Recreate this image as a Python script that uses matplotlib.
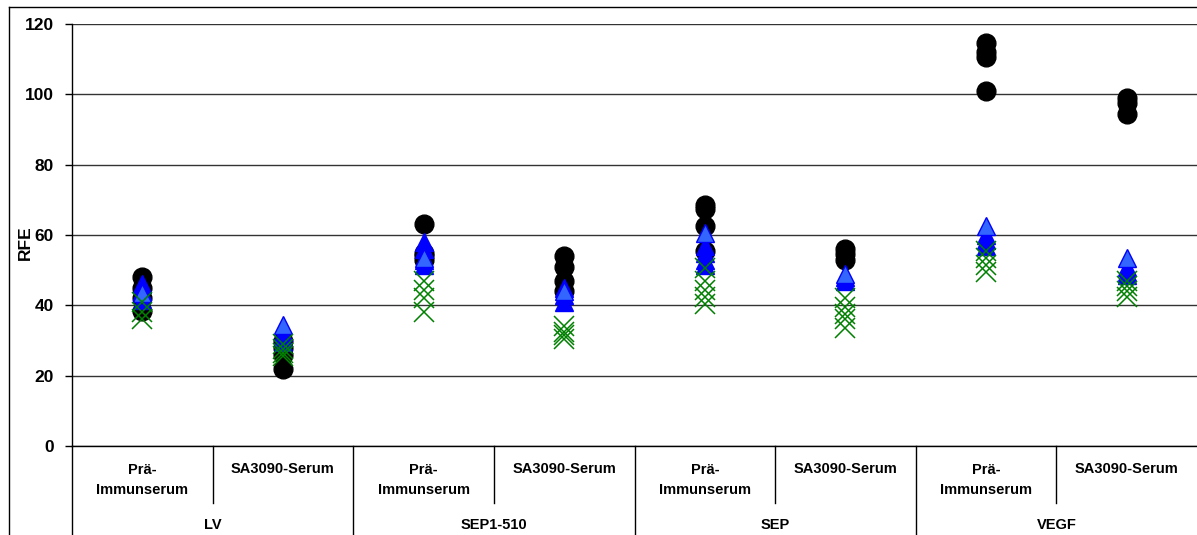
import numpy as np
import matplotlib.pyplot as plt
from matplotlib.lines import Line2D

plt.rcParams['font.family'] = ['Liberation Sans', 'DejaVu Sans']
plt.rcParams['font.weight'] = 'bold'

# sub-categories (serum) and groups (antigen)
sub_labels = ['Prä-\nImmunserum', 'SA3090-Serum'] * 4
groups = ['LV', 'SEP1-510', 'SEP', 'VEGF']

# black circles
circles = [
    [48, 45, 42, 38.5],
    [22, 26, 28, 30],
    [63, 55, 54, 53],
    [54, 51, 47, 44],
    [68.5, 67.5, 62.5, 55.5],
    [56, 54.5, 53],
    [114.5, 112, 110.5, 101],
    [99, 97.5, 94.5],
]
# blue triangles
tri_dark = [
    [46, 44, 41.5],
    [32.5, 31, 29.5],
    [58, 56, 53, 51.5],
    [45, 43, 41],
    [57, 55, 53, 51.5],
    [48, 47],
    [60, 58.5, 57],
    [51, 49.5, 48.5],
]
# lighter blue triangle
tri_light = [43.5, 34.5, 53.5, 44, 60.5, 49, 62.5, 53.5]
# green crosses
crosses = [
    [41, 38, 36],
    [29, 27.5, 26.5, 25.5],
    [47, 44.5, 42, 38],
    [34, 32.5, 31.5, 30.5],
    [50.5, 47, 44.5, 42.5, 40.5],
    [42, 39.5, 37.5, 36, 33.5],
    [55.5, 53.5, 51.5, 49.5],
    [47, 45.5, 44, 42.5],
]

W, H = 1197, 535
fig = plt.figure(figsize=(W / 100, H / 100), dpi=100)
ax = fig.add_axes([72 / W, (H - 446) / H, (W - 72) / W, 422 / H])

for i in range(8):
    ax.plot(np.full(len(circles[i]), i), circles[i], 'o', color='black',
            markersize=13.5, zorder=3)
    ax.plot(np.full(len(tri_dark[i]), i), tri_dark[i], '^', color='#0000FF',
            markersize=13.5, zorder=4)
    ax.plot([i], [tri_light[i]], '^', markerfacecolor='#3366FF',
            markeredgecolor='#0000FF', markersize=13.5, zorder=5)
    ax.plot(np.full(len(crosses[i]), i), crosses[i], 'x', color='#008000',
            markersize=14, markeredgewidth=1.1, zorder=6)

ax.set_xlim(-0.5, 7.5)
ax.set_ylim(0, 120)
ax.set_yticks(np.arange(0, 121, 20))
ax.tick_params(axis='y', labelsize=12.5, length=5, width=1, pad=8)
ax.set_xticks([])
ax.yaxis.grid(True, color='#333333', linewidth=1)
ax.set_axisbelow(True)
for s in ['top', 'right']:
    ax.spines[s].set_visible(False)
ax.spines['left'].set_linewidth(1)
ax.spines['bottom'].set_linewidth(1)

# category table below the axis
tr = ax.get_xaxis_transform()
for i, lab in enumerate(sub_labels):
    y = -0.08 if '\n' in lab else -0.0545
    ax.text(i, y, lab, transform=tr, ha='center', va='center', fontsize=10.5,
            fontweight='bold', linespacing=1.5)
for k, g in enumerate(groups):
    ax.text(2 * k + 0.5, -0.187, g, transform=tr, ha='center', va='center',
            fontsize=10.5, fontweight='bold')
    ax.add_line(Line2D([2 * k + 0.5] * 2, [0, -0.135], transform=tr,
                       color='black', linewidth=1, clip_on=False))
for b in [-0.5, 1.5, 3.5, 5.5]:
    ax.add_line(Line2D([b, b], [0, -0.215], transform=tr, color='black',
                       linewidth=1, clip_on=False))

fig.text(25 / W, 1 - 243 / H, 'RFE', rotation=90, ha='center', va='center',
         fontsize=12.5, fontweight='bold')

# outer frame
fig.add_artist(Line2D([8.5 / W, 8.5 / W], [0, 1 - 7 / H], color='black', linewidth=1))
fig.add_artist(Line2D([8.5 / W, 1], [1 - 7 / H, 1 - 7 / H], color='black', linewidth=1))

fig.savefig('out.png', dpi=100)
